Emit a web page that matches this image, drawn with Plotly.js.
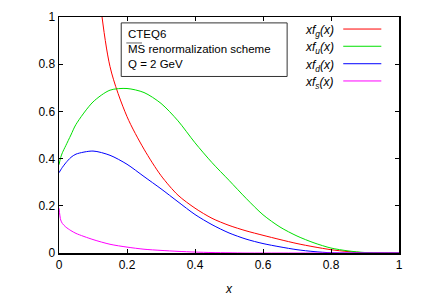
<!DOCTYPE html>
<html>
<head>
<meta charset="utf-8">
<script src="https://cdn.plot.ly/plotly-3.0.1.min.js"></script>
<style>html,body{margin:0;padding:0;background:#fff;}#chart{width:422px;height:296px;}</style>
</head>
<body>
<div id="chart"></div>
<script>
// shared x grid
const xGrid = [0, 0.005, 0.01, 0.02, 0.035, 0.05, 0.1, 0.15, 0.2, 0.25, 0.3, 0.35, 0.4, 0.45, 0.5, 0.55, 0.6, 0.65, 0.7, 0.75, 0.8, 0.85, 0.9, 0.95, 1.0];
// x f_g(x)  (gluon; off-scale values at small x are clipped by the axis)
const gluon = [null, null, null, null, null, 2.5, 1.35, 0.79, 0.578, 0.44, 0.328, 0.245, 0.19, 0.147, 0.117, 0.094, 0.075, 0.057, 0.04, 0.026, 0.014, 0.006, 0.001, 0, 0];
// x f_u(x)
const upQ = [0.374, 0.405, 0.425, 0.455, 0.5, 0.545, 0.64, 0.69, 0.697, 0.68, 0.634, 0.56, 0.467, 0.383, 0.308, 0.232, 0.162, 0.11, 0.072, 0.043, 0.021, 0.009, 0.002, 0, 0];
// x f_d(x)
const downQ = [0.34, 0.352, 0.363, 0.382, 0.405, 0.419, 0.432, 0.414, 0.376, 0.324, 0.272, 0.217, 0.163, 0.12, 0.085, 0.059, 0.04, 0.026, 0.014, 0.006, 0.001, 0, 0, 0, 0];
// x f_s(x)
const strangeQ = [0.19, 0.14, 0.125, 0.11, 0.095, 0.083, 0.057, 0.037, 0.025, 0.016, 0.011, 0.007, 0.004, 0.002, 0.001, 0, 0, 0, 0, 0, 0, 0, 0, 0, 0];

const seriesNames = ['<i>xf<sub>g</sub>(x)</i>', '<i>xf<sub>u</sub>(x)</i>', '<i>xf<sub>d</sub>(x)</i>', '<i>xf<sub>s</sub>(x)</i>'];
const seriesColors = ['#ff0000', '#00e000', '#0000ff', '#ff00ff'];
const seriesData = [gluon, upQ, downQ, strangeQ];
const xTicks = [0, 0.2, 0.4, 0.6, 0.8, 1];
const yTicks = [0, 0.2, 0.4, 0.6, 0.8, 1];
const boxLines = ['CTEQ6', 'MS renormalization scheme', 'Q = 2 GeV'];

const FONT = 'Liberation Sans, Arial, Helvetica, sans-serif';

const traces = seriesData.map((ys, i) => ({
  x: xGrid, y: ys, type: 'scatter', mode: 'lines',
  line: {color: seriesColors[i], width: 1, shape: 'spline', smoothing: 0.8, simplify: false},
  connectgaps: false, showlegend: false, hoverinfo: 'skip'
}));

// legend (labels to the left of line samples, like the original)
const legY = [0.949, 0.876, 0.802, 0.729];
const annotations = seriesNames.map((n, i) => ({
  xref: 'paper', yref: 'paper', x: 0.815, y: legY[i], xanchor: 'right', yanchor: 'middle',
  text: n, showarrow: false, font: {family: FONT, size: 12, color: '#000'}, yshift: -2
}));
const shapes = seriesColors.map((c, i) => ({
  type: 'line', xref: 'paper', yref: 'paper', x0: 0.836, x1: 0.948, y0: legY[i], y1: legY[i],
  line: {color: c, width: 1}
}));
// info box
shapes.push({type: 'rect', xref: 'paper', yref: 'paper', x0: 0.183, x1: 0.671, y0: 0.748, y1: 0.975,
  line: {color: '#333', width: 1}, fillcolor: 'rgba(0,0,0,0)'});
// overline for MS-bar
shapes.push({type: 'line', xref: 'paper', yref: 'paper', x0: 0.198, x1: 0.244, y0: 0.89, y1: 0.89,
  line: {color: '#666', width: 1}});
annotations.push({
  xref: 'paper', yref: 'paper', x: 0.196, y: 0.864, xanchor: 'left', yanchor: 'middle', align: 'left',
  text: boxLines.join('<br>'), showarrow: false, font: {family: FONT, size: 11.5, color: '#000'}
});

const axisCommon = {
  range: [0, 1], showgrid: false, zeroline: false,
  showline: true, linecolor: '#000', linewidth: 1.5, mirror: 'ticks',
  ticks: 'inside', ticklen: 4, tickwidth: 1, tickcolor: '#000',
  tickfont: {family: FONT, size: 12, color: '#000'}
};

const layout = {
  width: 422, height: 296,
  margin: {l: 59, r: 23, t: 17, b: 43, pad: 0},
  paper_bgcolor: '#fff', plot_bgcolor: '#fff',
  font: {family: FONT, size: 12, color: '#000'},
  xaxis: Object.assign({}, axisCommon, {
    tickmode: 'array', tickvals: xTicks, ticktext: xTicks.map(String),
    title: {text: '<i>x</i>', font: {family: FONT, size: 12, color: '#000'}, standoff: 14}
  }),
  yaxis: Object.assign({}, axisCommon, {
    tickmode: 'array', tickvals: yTicks, ticktext: yTicks.map(String)
  }),
  shapes: shapes,
  annotations: annotations,
  showlegend: false
};

Plotly.newPlot('chart', traces, layout, {staticPlot: true, displayModeBar: false});
</script>
</body>
</html>
